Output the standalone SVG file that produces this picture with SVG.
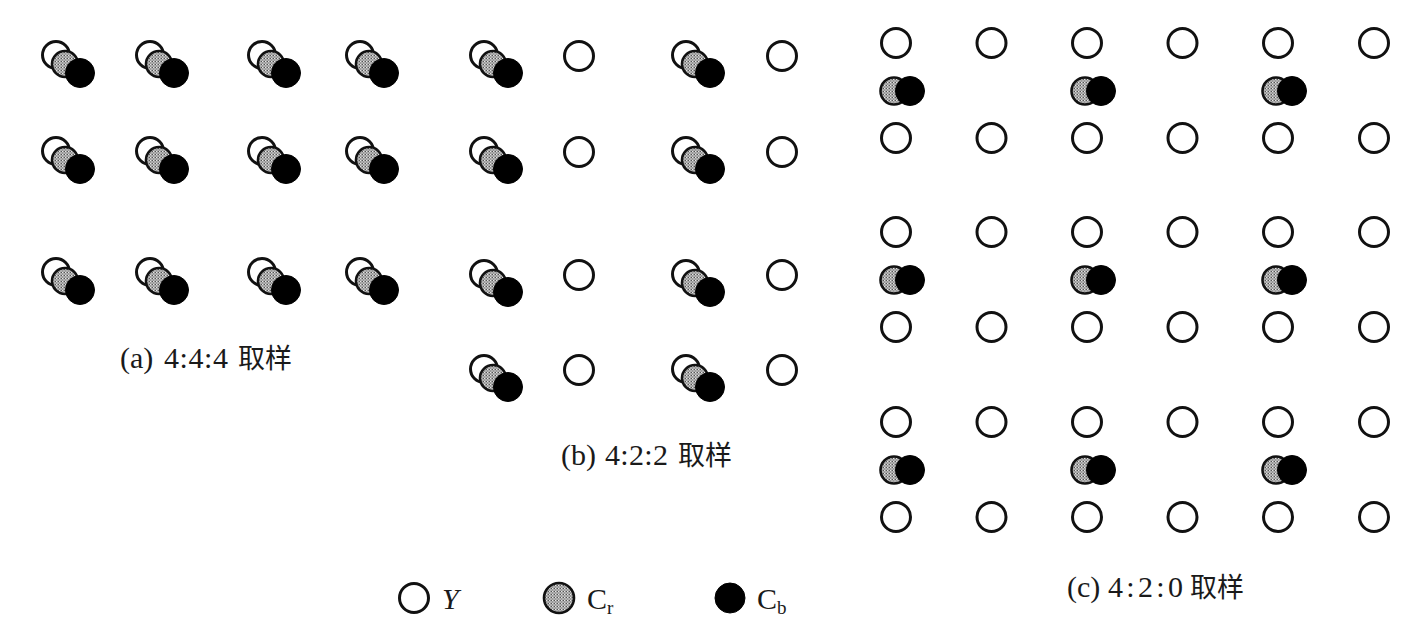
<svg xmlns="http://www.w3.org/2000/svg" xmlns:xlink="http://www.w3.org/1999/xlink" width="1414" height="644" viewBox="0 0 1414 644">
  <style>
    .y { fill: #fff; stroke: #111; stroke-width: 3; }
    .cr { fill: url(#dots); stroke: #111; stroke-width: 2.6; }
    .cb { fill: #000; stroke: #000; stroke-width: 1; }
    .lbl { font-family: "Liberation Serif", "Noto Sans CJK SC", serif; font-size: 30px; fill: #1a1a1a; }
    .cjk { font-family: "Noto Sans CJK SC", "Liberation Serif", serif; font-size: 27px; }
    .leg { font-family: "Liberation Serif", serif; font-size: 30px; fill: #1a1a1a; }
  </style>
  <defs>
    <pattern id="dots" width="3" height="3" patternUnits="userSpaceOnUse">
      <rect width="3" height="3" fill="#9a9a9a"/>
      <rect x="0" y="0" width="1" height="1" fill="#e6e6e6"/>
      <rect x="1.5" y="1.5" width="1" height="1" fill="#f0f0f0"/>
      <rect x="2" y="0" width="1" height="1" fill="#555"/>
    </pattern>
    <g id="tri">
      <circle class="y" cx="0" cy="0" r="13.5"/>
      <circle class="cr" cx="9" cy="9" r="13"/>
      <circle class="cb" cx="24" cy="18" r="14.5"/>
    </g>
    <circle id="yc" class="y" cx="0" cy="0" r="14.5"/>
    <g id="chr">
      <circle class="cr" cx="-2" cy="0" r="13.5"/>
      <circle class="cb" cx="14" cy="0" r="14.5"/>
    </g>
    <clipPath id="clipc">
      <rect x="860" y="0" width="530" height="644"/>
    </clipPath>
  </defs>
  <rect width="1414" height="644" fill="#fff"/>

  <!-- Panel (a) 4:4:4 -->
  <g id="panel-a">
    <g id="a-r1c1"><use xlink:href="#tri" x="56" y="55"/></g>
    <g id="a-r1c2"><use xlink:href="#tri" x="150" y="55"/></g>
    <g id="a-r1c3"><use xlink:href="#tri" x="262" y="55"/></g>
    <g id="a-r1c4"><use xlink:href="#tri" x="360" y="55"/></g>
    <g id="a-r2c1"><use xlink:href="#tri" x="56" y="151"/></g>
    <g id="a-r2c2"><use xlink:href="#tri" x="150" y="151"/></g>
    <g id="a-r2c3"><use xlink:href="#tri" x="262" y="151"/></g>
    <g id="a-r2c4"><use xlink:href="#tri" x="360" y="151"/></g>
    <g id="a-r3c1"><use xlink:href="#tri" x="56" y="272"/></g>
    <g id="a-r3c2"><use xlink:href="#tri" x="150" y="272"/></g>
    <g id="a-r3c3"><use xlink:href="#tri" x="262" y="272"/></g>
    <g id="a-r3c4"><use xlink:href="#tri" x="360" y="272"/></g>
    <g id="label-a">
      <text class="lbl" y="368"><tspan x="120">(a)</tspan><tspan x="164" textLength="64">4:4:4</tspan><tspan class="cjk" x="238">取样</tspan></text>
    </g>
  </g>

  <!-- Panel (b) 4:2:2 -->
  <g id="panel-b">
    <g id="b-r1c1"><use xlink:href="#tri" x="484" y="55"/></g>
    <g id="b-r1c2"><use xlink:href="#yc" x="579" y="56"/></g>
    <g id="b-r1c3"><use xlink:href="#tri" x="686" y="55"/></g>
    <g id="b-r1c4"><use xlink:href="#yc" x="782" y="56"/></g>
    <g id="b-r2c1"><use xlink:href="#tri" x="484" y="151"/></g>
    <g id="b-r2c2"><use xlink:href="#yc" x="579" y="152"/></g>
    <g id="b-r2c3"><use xlink:href="#tri" x="686" y="151"/></g>
    <g id="b-r2c4"><use xlink:href="#yc" x="782" y="152"/></g>
    <g id="b-r3c1"><use xlink:href="#tri" x="484" y="274"/></g>
    <g id="b-r3c2"><use xlink:href="#yc" x="579" y="275"/></g>
    <g id="b-r3c3"><use xlink:href="#tri" x="686" y="274"/></g>
    <g id="b-r3c4"><use xlink:href="#yc" x="782" y="275"/></g>
    <g id="b-r4c1"><use xlink:href="#tri" x="484" y="369"/></g>
    <g id="b-r4c2"><use xlink:href="#yc" x="579" y="370"/></g>
    <g id="b-r4c3"><use xlink:href="#tri" x="686" y="369"/></g>
    <g id="b-r4c4"><use xlink:href="#yc" x="782" y="370"/></g>
    <g id="label-b">
      <text class="lbl" y="465"><tspan x="561">(b)</tspan><tspan x="605" textLength="63">4:2:2</tspan><tspan class="cjk" x="678">取样</tspan></text>
    </g>
  </g>

  <!-- Panel (c) 4:2:0 -->
  <g id="panel-c" clip-path="url(#clipc)">
    <g id="c-g1">
      <g id="c-g1-ytop">
        <use xlink:href="#yc" x="896" y="43"/><use xlink:href="#yc" x="991.5" y="43"/><use xlink:href="#yc" x="1087" y="43"/>
        <use xlink:href="#yc" x="1182.5" y="43"/><use xlink:href="#yc" x="1278" y="43"/><use xlink:href="#yc" x="1374" y="43"/>
      </g>
      <g id="c-g1-chroma">
        <use xlink:href="#chr" x="896" y="91"/><use xlink:href="#chr" x="1087" y="91"/><use xlink:href="#chr" x="1278" y="91"/>
      </g>
      <g id="c-g1-ybot">
        <use xlink:href="#yc" x="896" y="138"/><use xlink:href="#yc" x="991.5" y="138"/><use xlink:href="#yc" x="1087" y="138"/>
        <use xlink:href="#yc" x="1182.5" y="138"/><use xlink:href="#yc" x="1278" y="138"/><use xlink:href="#yc" x="1374" y="138"/>
      </g>
    </g>
    <g id="c-g2">
      <g id="c-g2-ytop">
        <use xlink:href="#yc" x="896" y="232"/><use xlink:href="#yc" x="991.5" y="232"/><use xlink:href="#yc" x="1087" y="232"/>
        <use xlink:href="#yc" x="1182.5" y="232"/><use xlink:href="#yc" x="1278" y="232"/><use xlink:href="#yc" x="1374" y="232"/>
      </g>
      <g id="c-g2-chroma">
        <use xlink:href="#chr" x="896" y="280"/><use xlink:href="#chr" x="1087" y="280"/><use xlink:href="#chr" x="1278" y="280"/>
      </g>
      <g id="c-g2-ybot">
        <use xlink:href="#yc" x="896" y="327"/><use xlink:href="#yc" x="991.5" y="327"/><use xlink:href="#yc" x="1087" y="327"/>
        <use xlink:href="#yc" x="1182.5" y="327"/><use xlink:href="#yc" x="1278" y="327"/><use xlink:href="#yc" x="1374" y="327"/>
      </g>
    </g>
    <g id="c-g3">
      <g id="c-g3-ytop">
        <use xlink:href="#yc" x="896" y="422"/><use xlink:href="#yc" x="991.5" y="422"/><use xlink:href="#yc" x="1087" y="422"/>
        <use xlink:href="#yc" x="1182.5" y="422"/><use xlink:href="#yc" x="1278" y="422"/><use xlink:href="#yc" x="1374" y="422"/>
      </g>
      <g id="c-g3-chroma">
        <use xlink:href="#chr" x="896" y="470"/><use xlink:href="#chr" x="1087" y="470"/><use xlink:href="#chr" x="1278" y="470"/>
      </g>
      <g id="c-g3-ybot">
        <use xlink:href="#yc" x="896" y="517"/><use xlink:href="#yc" x="991.5" y="517"/><use xlink:href="#yc" x="1087" y="517"/>
        <use xlink:href="#yc" x="1182.5" y="517"/><use xlink:href="#yc" x="1278" y="517"/><use xlink:href="#yc" x="1374" y="517"/>
      </g>
    </g>
  </g>
  <g id="label-c">
    <text class="lbl" y="597"><tspan x="1067">(c)</tspan><tspan x="1108" textLength="75">4:2:0</tspan><tspan class="cjk" x="1190">取样</tspan></text>
  </g>

  <!-- Legend -->
  <g id="legend">
    <g id="legend-y">
      <circle class="y" cx="414" cy="598" r="14.5"/>
      <text class="leg" x="442" y="609" font-style="italic">Y</text>
    </g>
    <g id="legend-cr">
      <circle class="cr" cx="559" cy="598" r="15"/>
      <text class="leg" x="587" y="609">C<tspan font-size="19" dy="5">r</tspan></text>
    </g>
    <g id="legend-cb">
      <circle class="cb" cx="730" cy="598" r="15"/>
      <text class="leg" x="757" y="609">C<tspan font-size="19" dy="5">b</tspan></text>
    </g>
  </g>
</svg>
